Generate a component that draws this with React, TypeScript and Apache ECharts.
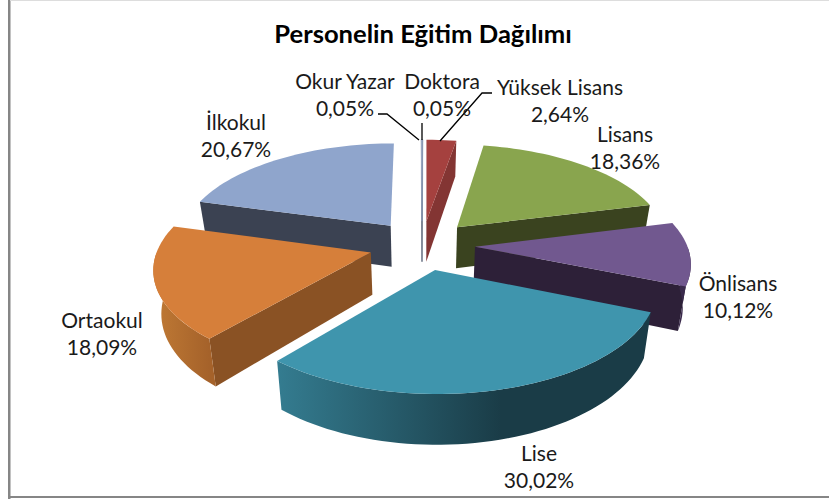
import React, { useEffect, useRef } from "react";
import * as echarts from "echarts";

const TITLE = "Personelin Eğitim Dağılımı";
const categories = ["Doktora", "Yüksek Lisans", "Lisans", "Önlisans", "Lise", "Ortaokul", "İlkokul", "Okur Yazar"];
const values = [0.05, 2.64, 18.36, 10.12, 30.02, 18.09, 20.67, 0.05];
const valueLabels = ["0,05%", "2,64%", "18,36%", "10,12%", "30,02%", "18,09%", "20,67%", "0,05%"];
const topColors = ["#8B9AB8", "#A5413F", "#89A54E", "#71588F", "#3F95AD", "#D67F3A", "#8FA5CC", "#A4B2CC"];
const wallColors = ["#5A6478", "#833533", "#3A431F", "#2D2038", "#1A3C47", "#8A5224", "#3B4252", "#5A6478"];
const arcLight = ["#5A6478", "#833533", "#3A431F", "#3A2A4C", "#347C90", "#C07A35", "#3B4252", "#5A6478"];
const arcDarkStop = [1, 1, 1, 1, 0.6, 1, 1, 1];
const arcEnd = ["#5A6478", "#833533", "#3A431F", "#2D2038", "#1A3C47", "#A5622A", "#3B4252", "#5A6478"];
const drawOrder = [7, 0, 1, 6, 2, 3, 5, 4];
const labelCenters = [
  [442, 80], [560, 86], [625, 133], [738, 282], [539, 452], [102, 319], [236, 121], [345, 80],
];
const leaders = [
  [[422, 123], [422, 140]],
  [[492, 93], [482, 93], [440, 141]],
  [[378, 114], [387, 114], [419, 140]],
];

// Perspective projection of the pie plane on the page
const CX = 422, CY = 245, A = 212, B = 99, K = 0.14, EXPLODE = 0.25, DEPTH = 42, LOW_SCALE = 0.97;
const RAD = Math.PI / 180;

function project(u: number, v: number, down: boolean) {
  const d = 1 + K * v;
  const x = (A * u) / d;
  return [CX + (down ? x * LOW_SCALE : x), CY - (B * v) / d + (down ? DEPTH / d : 0)];
}

const total = values.reduce((s, x) => s + x, 0);
const starts: number[] = [];
values.reduce((s, x, i) => {
  starts[i] = s;
  return s + x;
}, 0);

function renderSlice(_: any, api: any) {
  const i = api.value(0);
  const val = api.value(1);
  const t0 = (starts[i] / total) * 360;
  const t1 = t0 + (val / total) * 360;
  const mid = ((t0 + t1) / 2) * RAD;
  const ou = EXPLODE * Math.sin(mid);
  const ov = EXPLODE * Math.cos(mid);
  const rimArc = (a: number, b: number, down: boolean) => {
    const steps = Math.max(2, Math.ceil((b - a) / 2));
    const pts: number[][] = [];
    for (let s = 0; s <= steps; s++) {
      const t = (a + ((b - a) * s) / steps) * RAD;
      pts.push(project(ou + Math.sin(t), ov + Math.cos(t), down));
    }
    return pts;
  };
  const topRim = rimArc(t0, t1, false);
  const rimStart = topRim[0];
  const rimEnd = topRim[topRim.length - 1];
  const lowStart = rimArc(t0, t0, true)[0];
  const lowEnd = rimArc(t1, t1, true)[0];
  const apexTop = project(ou, ov, false);
  const apexLow = project(ou, ov, true);
  const thin = val < 0.5;
  const children: any[] = [];
  const poly = (points: number[][], fill: any) => ({
    type: "polygon",
    shape: { points },
    style: { fill, stroke: thin ? (typeof fill === "string" ? fill : undefined) : undefined, lineWidth: thin ? 0.5 : 0 },
  });
  if (Math.sin(t0 * RAD) < 0) {
    children.push(poly([apexTop, rimStart, lowStart, apexLow], wallColors[i]));
  }
  if (Math.sin(t1 * RAD) > 0) {
    children.push(poly([apexTop, rimEnd, lowEnd, apexLow], wallColors[i]));
  }
  const a = Math.max(t0, 90);
  const b = Math.min(t1, 270);
  if (b > a) {
    const upper = rimArc(a, b, false);
    const lower = rimArc(a, b, true);
    const xs = upper.map((p) => p[0]);
    const minX = Math.min(...xs);
    const maxX = Math.max(...xs);
    children.push(
      poly(upper.concat(lower.slice().reverse()), {
        type: "linear",
        x: minX,
        y: 0,
        x2: Math.max(maxX, minX + 1),
        y2: 0,
        global: true,
        colorStops: [
          { offset: 0, color: arcLight[i] },
          { offset: arcDarkStop[i], color: arcEnd[i] },
          { offset: 1, color: arcEnd[i] },
        ],
      })
    );
  }
  children.push(poly([apexTop, ...topRim], topColors[i]));
  return { type: "group", children };
}

export default function App() {
  const ref = useRef<HTMLDivElement>(null);
  useEffect(() => {
    document.body.style.margin = "0";
    const chart = echarts.init(ref.current!, undefined, { renderer: "svg" });
    const font = "Lato, 'Open Sans', sans-serif";
    chart.setOption({
      animation: false,
      backgroundColor: "#ffffff",
      title: {
        text: TITLE,
        left: 418,
        top: 15,
        textAlign: "center",
        textStyle: { fontFamily: font, fontSize: 25.6, fontWeight: "bold", color: "#000000" },
      },
      graphic: [
        { type: "rect", shape: { x: 8, y: 0, width: 2.5, height: 499 }, style: { fill: "#868686" } },
        { type: "rect", shape: { x: 8, y: 496, width: 821, height: 2 }, style: { fill: "#868686" } },
        { type: "rect", shape: { x: 10, y: 0, width: 819, height: 1 }, style: { fill: "#dddddd" } },
        ...leaders.map((pts) => ({
          type: "polyline",
          shape: { points: pts },
          style: { stroke: "#000000", lineWidth: 1.3, fill: "none" },
          z: 10,
        })),
        ...categories.map((c, i) => ({
          type: "text",
          z: 10,
          style: {
            text: `${c}\n${valueLabels[i]}`,
            x: labelCenters[i][0],
            y: labelCenters[i][1] - 13,
            align: "center",
            verticalAlign: "top",
            font: `21px ${font}`,
            lineHeight: 27,
            fill: "#1a1a1a",
          },
        })),
      ],
      series: [
        {
          type: "custom",
          coordinateSystem: "none",
          renderItem: renderSlice,
          silent: true,
          data: drawOrder.map((i) => [i, values[i]]),
        },
      ],
    });
    return () => chart.dispose();
  }, []);
  return <div ref={ref} style={{ width: 829, height: 499 }} />;
}
